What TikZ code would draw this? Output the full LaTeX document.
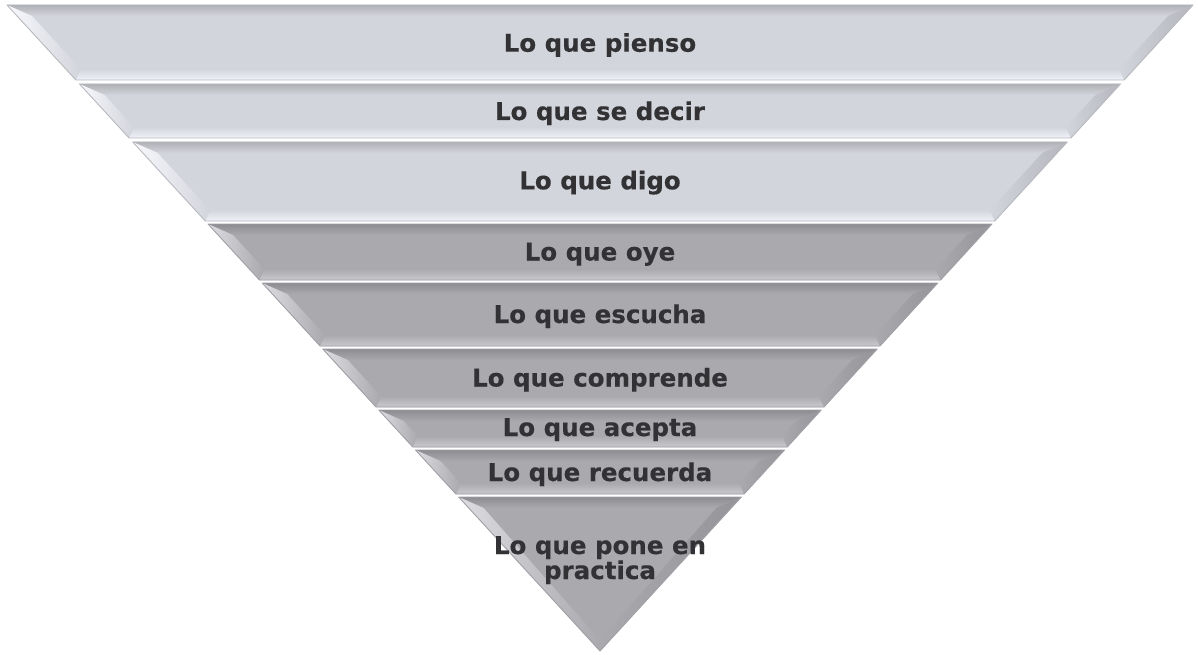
\documentclass[tikz,border=0pt]{standalone}
\usepackage{fontspec}
\setmainfont{DejaVu Sans}[BoldFont=DejaVu Sans Bold, BoldFeatures={FakeBold=0.4}]
\definecolor{baseL}{HTML}{D3D5DC}
\definecolor{topL}{HTML}{B0B1B6}
\definecolor{hiL}{HTML}{F0F1F9}
\definecolor{bevlL}{HTML}{F8F8FC}
\definecolor{bevrL}{HTML}{B5B6BD}
\definecolor{edgeL}{HTML}{B8B9BF}
\definecolor{baseD}{HTML}{A9A9AE}
\definecolor{topD}{HTML}{8C8C91}
\definecolor{hiD}{HTML}{C8C8CD}
\definecolor{bevlD}{HTML}{DCDCE1}
\definecolor{bevrD}{HTML}{949499}
\definecolor{edgeD}{HTML}{A0A0A6}
\definecolor{txt}{HTML}{323235}
\begin{document}
\begin{tikzpicture}[x=1pt,y=-1pt,
  lbl/.style={font=\bfseries\fontsize{24.5}{25}\selectfont, text=txt, inner sep=0pt, align=center}]
\useasboundingbox (0,0) rectangle (1198,655);
\foreach \i/\ya/\yb/\st in {1/5/80/L,2/84/138/L,3/142/221/L,4/224/280/D,5/283/346/D,6/349/407/D,7/410/447/D,8/450/494/D,9/497/651/D}{
  \pgfmathsetmacro\xlt{7+(\ya-5)*0.918}
  \pgfmathsetmacro\xrt{1193-(\ya-5)*0.918}
  \pgfmathsetmacro\xlb{7+(\yb-5)*0.918}
  \pgfmathsetmacro\xrb{1193-(\yb-5)*0.918}
  \pgfmathsetmacro\ilt{\xlt+25}
  \pgfmathsetmacro\irt{\xrt-25}
  \pgfmathsetmacro\ilb{min(\xlb+4.8,600)}
  \pgfmathsetmacro\irb{max(\xrb-4.8,600)}
  \pgfmathsetmacro\iyt{\ya+11}
  \pgfmathsetmacro\iyb{\yb-11}
  \fill[base\st] (\xlt,\ya) -- (\xrt,\ya) -- (\xrb,\yb) -- (\xlb,\yb) -- cycle;
  \shade[top color=top\st, bottom color=base\st] (\xlt,\ya) -- (\xrt,\ya) -- (\irt,\iyt) -- (\ilt,\iyt) -- cycle;
  \shade[top color=base\st, bottom color=hi\st] (\ilb,\iyb) -- (\irb,\iyb) -- (\xrb,\yb) -- (\xlb,\yb) -- cycle;
  \shade[left color=bevl\st, right color=base\st] (\xlt,\ya) -- (\ilt,\iyt) -- (\ilb,\iyb) -- (\xlb,\yb) -- cycle;
  \shade[left color=base\st, right color=bevr\st] (\xrt,\ya) -- (\irt,\iyt) -- (\irb,\iyb) -- (\xrb,\yb) -- cycle;
  \draw[edge\st, line width=0.9pt, line join=round] (\xlt,\ya) -- (\xrt,\ya) -- (\xrb,\yb) -- (\xlb,\yb) -- cycle;
}
\node[lbl, anchor=base] (t1) at (600,51.7) {Lo que pienso};
\node[lbl, anchor=base] (t2) at (600,120) {Lo que se decir};
\node[lbl, anchor=base] (t3) at (600,189.3) {Lo que digo};
\node[lbl, anchor=base] (t4) at (600,260.5) {Lo que oye};
\node[lbl, anchor=base] (t5) at (600,323) {Lo que escucha};
\node[lbl, anchor=base] (t6) at (600,386.5) {Lo que comprende};
\node[lbl, anchor=base] (t7) at (600,436) {Lo que acepta};
\node[lbl, anchor=base] (t8) at (600,481) {Lo que recuerda};
\node[lbl, anchor=base] (t9) at (600,554) {Lo que pone en};
\node[lbl, anchor=base] (t9b) at (600,579) {practica};
\end{tikzpicture}
\end{document}
